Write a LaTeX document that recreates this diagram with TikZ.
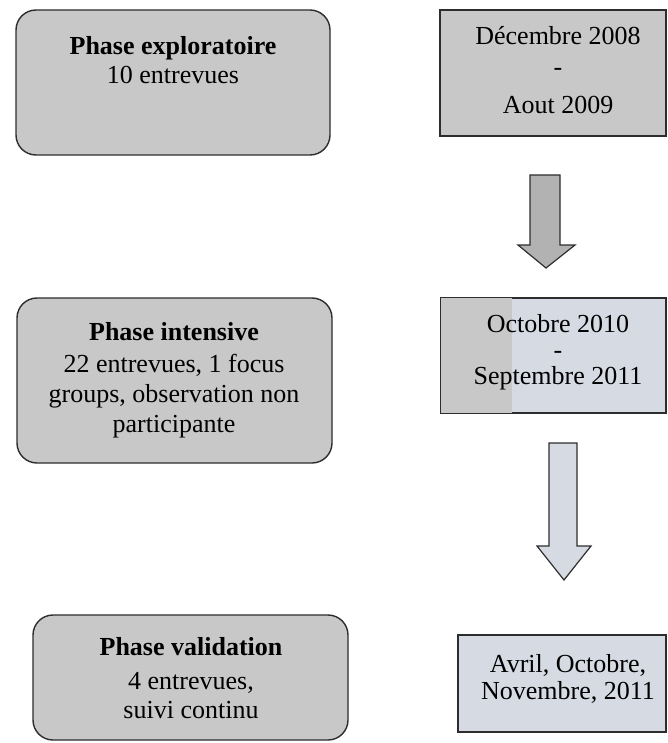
\documentclass[tikz,border=0pt]{standalone}
\usepackage{fontspec}
\setmainfont{Liberation Serif}
\definecolor{boxline}{RGB}{45,45,45}
\definecolor{boxgray}{RGB}{200,200,200}
\definecolor{arrowgray}{RGB}{178,178,178}
\definecolor{boxblue}{RGB}{214,218,226}
\begin{document}
\begin{tikzpicture}[x=1pt,y=-1pt,
  phasebox/.style={draw=boxline, line width=1.4pt, fill=boxgray, rounded corners=20pt, inner sep=0pt},
  datebox/.style={draw=boxline, line width=1.4pt, fill=boxgray, inner sep=0pt},
  txt/.style={anchor=base, inner sep=0pt, font=\fontsize{26}{30}\selectfont},
  txtb/.style={txt, font=\fontsize{26}{30}\selectfont\bfseries},
  blockarrow/.style={draw=boxline, line width=1.2pt, line join=miter}]
\useasboundingbox (0,0) rectangle (668,743);

% left column: phases
\node[phasebox, minimum width=314pt, minimum height=145pt] (expl) at (173,82.5) {};
\node[txtb] (explA) at (173,55) {Phase exploratoire};
\node[txt]  (explB) at (173,84) {10 entrevues};

\node[phasebox, minimum width=315pt, minimum height=165pt] (inten) at (174.5,380.5) {};
\node[txtb] (intenA) at (174,340) {Phase intensive};
\node[txt]  (intenB) at (174,372) {22 entrevues, 1 focus};
\node[txt]  (intenC) at (174,402) {groups, observation non};
\node[txt]  (intenD) at (174,432) {participante};

\node[phasebox, minimum width=315pt, minimum height=125pt] (valid) at (190.5,677.5) {};
\node[txtb] (validA) at (191,655) {Phase validation};
\node[txt]  (validB) at (191,689) {4 entrevues,};
\node[txt]  (validC) at (191,718) {suivi continu};

% right column: periods
\node[datebox, minimum width=226pt, minimum height=126pt] (per1) at (553,73) {};
\node[txt] (per1A) at (558,45) {Décembre 2008};
\node[txt] (per1B) at (558,76) {-};
\node[txt] (per1C) at (558,114) {Aout 2009};

\node[datebox, fill=boxblue, minimum width=225pt, minimum height=115pt] (per2) at (553.5,355.5) {};
\fill[boxgray] ([xshift=0.7pt,yshift=-0.7pt]per2.north west) rectangle ([yshift=0.7pt]per2.south west -| 512,0);
\draw[boxline, line width=1.4pt] (per2.north west) rectangle (per2.south east);
\node[txt] (per2A) at (558,332) {Octobre 2010};
\node[txt] (per2B) at (558,358) {-};
\node[txt] (per2C) at (558,384) {Septembre 2011};

\node[datebox, fill=boxblue, minimum width=208pt, minimum height=97pt] (per3) at (562,683.5) {};
\node[txt] (per3A) at (568,672) {Avril, Octobre,};
\node[txt] (per3B) at (568,699) {Novembre, 2011};

% block arrows between periods
\draw[blockarrow, fill=arrowgray]
  (530,175) -- (560,175) -- (560,245) -- (575,245) -- (546,268) -- (518,245) -- (530,245) -- cycle;
\draw[blockarrow, fill=boxblue]
  (549,443) -- (577,443) -- (577,546) -- (591,546) -- (564,580) -- (537,546) -- (549,546) -- cycle;
\end{tikzpicture}
\end{document}
